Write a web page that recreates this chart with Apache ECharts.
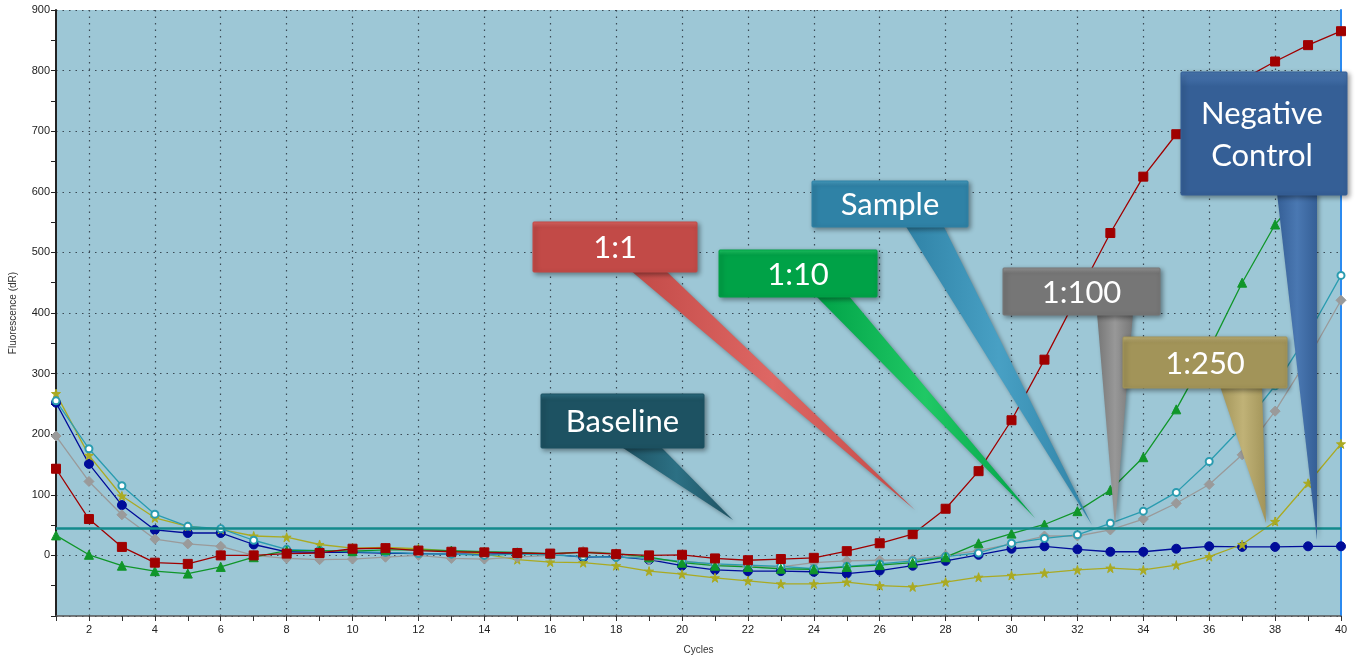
<!DOCTYPE html>
<html>
<head>
<meta charset="utf-8">
<title>Amplification plot</title>
<script src="https://cdn.jsdelivr.net/npm/echarts@6/dist/echarts.min.js"></script>
<style>
  html, body { margin: 0; padding: 0; background: #fff; }
  #chart { width: 1358px; height: 660px; }
</style>
</head>
<body>
<div id="chart"></div>
<script>
// cycles 1..40
const cycles = Array.from({ length: 40 }, (_, i) => String(i + 1));

// fluorescence (dR) per cycle
const dil1to1 = [143, 60, 14, -12, -14, 0, 0, 3, 4, 11, 12, 8, 6, 5, 4, 3, 5, 2, 0, 1,
  -5, -8, -6, -4, 7, 20, 35, 77, 139, 223, 323, 428, 532, 625, 695, 748, 785, 815, 842, 865];
const dil1to10 = [33, 1, -17, -26, -30, -19, -3, 8, 8, 7, 9, 9, 8, 6, 5, 3, 5, 3, -3, -12,
  -17, -19, -22, -23, -19, -16, -12, -3, 20, 36, 51, 73, 108, 162, 241, 340, 450, 546, 610, 660];
const sample = [255, 176, 115, 68, 48, 44, 25, 10, 8, 6, 5, 3, 2, 0, 2, 1, -2, -3, -5, -10,
  -14, -16, -18, -22, -18, -14, -9, -2, 4, 20, 28, 34, 53, 73, 104, 155, 212, 280, 365, 462];
const dil1to100 = [197, 122, 67, 27, 19, 15, 0, -5, -7, -6, -3, 0, -5, -6, -3, 0, 7, 3, -7, -9,
  -15, -18, -19, -12, -9, -8, -7, 0, 8, 19, 32, 32, 42, 60, 86, 117, 166, 238, 325, 421];
const dil1to250 = [267, 165, 98, 62, 48, 43, 32, 30, 18, 12, 13, 11, 7, 2, -7, -11, -12, -17, -26, -31,
  -37, -42, -47, -47, -44, -50, -52, -44, -36, -33, -29, -24, -21, -24, -16, -2, 18, 56, 119, 184];
const negControl = [252, 151, 83, 42, 37, 37, 18, 6, 5, 5, 4, 3, 2, 2, 3, 2, -3, -2, -7, -17,
  -24, -26, -26, -27, -30, -25, -17, -9, 1, 11, 15, 10, 6, 6, 11, 15, 14, 14, 15, 15];

const threshold = 44;

const yTicks = [-100, 0, 100, 200, 300, 400, 500, 600, 700, 800, 900];

const starPath = 'path://M50,0 L61,35 L98,35 L68,57 L79,91 L50,70 L21,91 L32,57 L2,35 L39,35 Z';

function line(name, data, color, symbol, size, extra) {
  return Object.assign({
    name, type: 'line', data,
    symbol, symbolSize: size,
    lineStyle: { color, width: 1.3 },
    itemStyle: { color, borderColor: color },
    animation: false
  }, extra || {});
}

// callout boxes drawn over the plot
const callouts = [
  { text: 'Baseline', dark: '#1d5262', light: '#2c7084', box: [541, 394, 163, 54], stem: [620, 660], tip: [733, 520] },
  { text: '1:1', dark: '#c24a47', light: '#de6764', box: [533, 222, 164, 50], stem: [630, 665], tip: [915, 510] },
  { text: '1:10', dark: '#00a247', light: '#20c865', box: [719, 250, 158, 47], stem: [815, 848], tip: [1035, 518] },
  { text: 'Sample', dark: '#2f82a6', light: '#48a0c4', box: [812, 181, 156, 46], stem: [905, 943], tip: [1092, 525] },
  { text: '1:100', dark: '#767676', light: '#989898', box: [1003, 268, 157, 47], stem: [1097, 1133], tip: [1115, 527] },
  { text: 'Negative\nControl', dark: '#355f96', light: '#4a78b2', box: [1181, 72, 166, 123], stem: [1277, 1317], tip: [1317, 540] },
  { text: '1:250', dark: '#a29459', light: '#c0b277', box: [1123, 337, 164, 51], stem: [1220, 1262], tip: [1266, 523] }
];

function calloutElements(c) {
  const [x, y, w, h] = c.box;
  const by = y + h;
  return [
    {
      type: 'polygon', z: 100,
      shape: { points: [[c.stem[0], by - 2], [c.stem[1], by - 2], c.tip] },
      style: {
        fill: new echarts.graphic.LinearGradient(0, 0, 1, 0, [
          { offset: 0, color: c.dark }, { offset: 0.5, color: c.light }, { offset: 1, color: c.dark }
        ]),
        shadowBlur: 4, shadowColor: 'rgba(0,0,0,0.35)', shadowOffsetX: 2, shadowOffsetY: 2
      }
    },
    {
      type: 'rect', z: 101,
      shape: { x, y, width: w, height: h, r: 1 },
      style: {
        fill: new echarts.graphic.LinearGradient(0, 0, 0, 1, [
          { offset: 0, color: c.light }, { offset: 0.12, color: c.dark }, { offset: 0.88, color: c.dark }, { offset: 1, color: c.dark }
        ]),
        stroke: c.dark, lineWidth: 1,
        shadowBlur: 5, shadowColor: 'rgba(0,0,0,0.4)', shadowOffsetX: 2, shadowOffsetY: 2
      }
    },
    {
      type: 'text', z: 102,
      x: x + w / 2 - (w > 164 ? 2 : 0), y: y + h / 2 + 1,
      style: {
        text: c.text, fill: '#ffffff',
        font: '31px Lato, "Open Sans", sans-serif',
        align: 'center', verticalAlign: 'middle', lineHeight: 42
      }
    }
  ];
}

const chart = echarts.init(document.getElementById('chart'));

chart.setOption({
  animation: false,
  backgroundColor: '#ffffff',
  grid: {
    left: 54, right: 17, top: 10, bottom: 42,
    show: true, backgroundColor: '#9dc7d6', borderWidth: 0
  },
  xAxis: {
    type: 'category', data: cycles, boundaryGap: false,
    name: 'Cycles', nameLocation: 'middle', nameGap: 29,
    nameTextStyle: { fontFamily: 'Liberation Sans', fontSize: 10, color: '#333' },
    axisLine: { onZero: false, lineStyle: { color: '#555', width: 1.5 } },
    axisTick: { show: true, interval: 0, length: 5, lineStyle: { color: '#333' } },
    axisLabel: {
      interval: (i) => (i + 1) % 2 === 0,
      fontFamily: 'Liberation Sans', fontSize: 11, color: '#222', margin: 8
    },
    splitLine: {
      show: true, interval: (i) => (i + 1) % 2 === 0 && i < cycles.length - 1,
      lineStyle: { color: '#3a4a55', type: [1.5, 5], width: 1.2 }
    }
  },
  yAxis: [{
    type: 'value', min: yTicks[0], max: yTicks[yTicks.length - 1], interval: 100,
    name: 'Fluorescence (dR)', nameLocation: 'middle', nameGap: 38,
    nameTextStyle: { fontFamily: 'Liberation Sans', fontSize: 10, color: '#333' },
    axisLine: { show: true, lineStyle: { color: '#222', width: 2 } },
    axisTick: { show: true, length: 5, lineStyle: { color: '#222' } },
    minorTick: { show: true, splitNumber: 2, length: 5, lineStyle: { color: '#222' } },
    axisLabel: {
      formatter: (v) => (v === yTicks[0] ? '' : String(v)),
      fontFamily: 'Liberation Sans', fontSize: 11, color: '#222', margin: 6
    },
    splitLine: { show: true, lineStyle: { color: '#3a4a55', type: [1.5, 5], width: 1.2 } }
  }, {
    type: 'value', position: 'right', min: yTicks[0], max: yTicks[yTicks.length - 1],
    axisLine: { show: true, lineStyle: { color: '#2b8af0', width: 2 } },
    axisTick: { show: false }, axisLabel: { show: false }, splitLine: { show: false }
  }],
  series: [
    line('Negative Control', negControl, '#000c99', 'circle', 9, {
      markLine: {
        silent: true, symbol: 'none', label: { show: false },
        lineStyle: { color: '#148a8c', width: 2.5, type: 'solid' },
        data: [{ yAxis: threshold }]
      }
    }),
    line('1:250', dil1to250, '#aaaa22', starPath, 9),
    line('1:100', dil1to100, '#9a9a9a', 'diamond', 10),
    line('Sample', sample, '#2a9cb0', 'emptyCircle', 7),
    line('1:10', dil1to10, '#10962a', 'triangle', 9),
    line('1:1', dil1to1, '#a00000', 'rect', 9)
  ],
  graphic: callouts.flatMap(calloutElements)
});
</script>
</body>
</html>
